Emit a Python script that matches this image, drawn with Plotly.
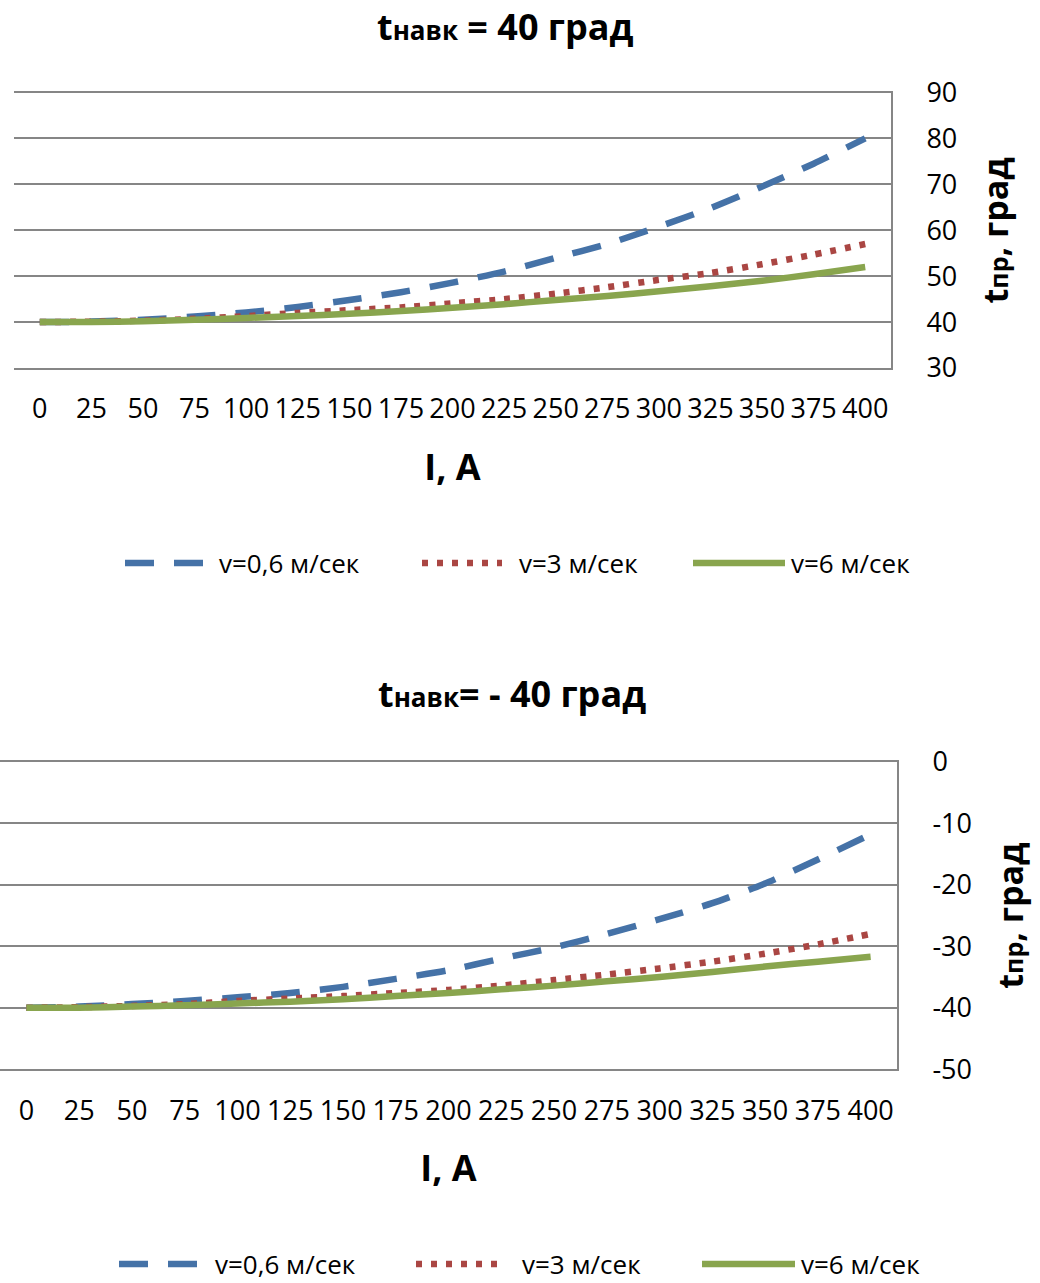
import plotly.graph_objects as go

# ---------------- data ----------------
current_A = [0, 25, 50, 75, 100, 125, 150, 175, 200, 225, 250, 275, 300, 325, 350, 375, 400]
tick_labels = [str(v) for v in current_A]

series_names = ["v=0,6 м/сек", "v=3 м/сек", "v=6 м/сек"]

top_yticks = [30, 40, 50, 60, 70, 80, 90]
top_yticklabels = ["30", "40", "50", "60", "70", "80", "90"]
bot_yticks = [-50, -40, -30, -20, -10, 0]
bot_yticklabels = ["-50", "-40", "-30", "-20", "-10", "0"]

# ambient +40 °C
top_v06 = [40, 40.1, 40.5, 41.2, 42.1, 43.3, 44.8, 46.5, 48.6, 51.0, 54.0, 57.0, 60.8, 64.8, 69.5, 74.5, 80.0]
top_v3 = [40, 40.1, 40.3, 40.7, 41.3, 42.0, 42.6, 43.2, 44.1, 45.0, 46.2, 47.6, 49.2, 50.7, 52.6, 54.7, 57.0]
top_v6 = [40, 40.0, 40.2, 40.5, 40.9, 41.3, 41.8, 42.4, 43.1, 43.9, 44.8, 45.7, 46.7, 47.8, 49.0, 50.4, 52.0]

# ambient -40 °C
bot_v06 = [-40, -39.8, -39.4, -38.9, -38.3, -37.6, -36.6, -35.3, -33.9, -32.0, -30.2, -28.0, -25.6, -23.0, -19.8, -15.9, -11.8]
bot_v3 = [-40, -39.9, -39.7, -39.4, -38.9, -38.5, -38.1, -37.6, -37.1, -36.4, -35.5, -34.6, -33.6, -32.5, -31.2, -29.7, -28.0]
bot_v6 = [-40, -40.0, -39.8, -39.6, -39.3, -39.0, -38.6, -38.1, -37.6, -37.0, -36.4, -35.7, -35.0, -34.2, -33.3, -32.5, -31.7]

# ---------------- styles ----------------
W, H = 1040, 1283
FONT = "Open Sans"
GRID = "#868686"
colors = ["#4572A7", "#AA4643", "#89A54E"]
dashes = ["29px,20px", "6px,9px", "solid"]
LW = 6.5


def py(px):
    return 1 - px / H


def px_x(px):
    return px / W


fig = go.Figure()

for vals, name, c, d in zip([top_v06, top_v3, top_v6], series_names, colors, dashes):
    fig.add_trace(go.Scatter(x=current_A, y=vals, name=name, mode="lines",
                             line=dict(color=c, width=LW, dash=d, shape="spline", smoothing=0.6),
                             showlegend=False, xaxis="x", yaxis="y"))
for vals, name, c, d in zip([bot_v06, bot_v3, bot_v6], series_names, colors, dashes):
    fig.add_trace(go.Scatter(x=current_A, y=vals, name=name, mode="lines",
                             line=dict(color=c, width=LW, dash=d, shape="spline", smoothing=0.6),
                             showlegend=False, xaxis="x2", yaxis="y2"))

xcommon = dict(range=[-12.5, 412.5], tickmode="array", tickvals=current_A, ticktext=tick_labels,
               showgrid=False, zeroline=False, showline=True, mirror=True,
               linecolor=GRID, linewidth=2, automargin=False,
               ticks="outside", ticklen=16, tickcolor="rgba(0,0,0,0)",
               tickfont=dict(family=FONT, size=27, color="black"),
               title=dict(text="<b>I, A</b>", font=dict(family=FONT, size=36, color="black"), standoff=29),
               fixedrange=True)
ycommon = dict(side="right", tickmode="array", showgrid=True, gridcolor=GRID, gridwidth=2,
               zeroline=False, showline=True, linecolor=GRID, linewidth=2, automargin=False,
               ticks="outside", ticklen=28, tickcolor="rgba(0,0,0,0)",
               tickfont=dict(family=FONT, size=27, color="black"),
               title=dict(text="<b>t<span style='font-size:25px'>пр</span>, град</b>",
                          font=dict(family=FONT, size=34, color="black"), standoff=28),
               fixedrange=True)

fig.update_layout(
    template="none",
    autosize=False,
    width=W, height=H,
    margin=dict(l=0, r=0, t=0, b=0, pad=0),
    paper_bgcolor="white", plot_bgcolor="white",
    font=dict(family=FONT, color="black"),
    xaxis=dict(domain=[px_x(14), px_x(891)], anchor="y", **xcommon),
    yaxis=dict(domain=[py(368), py(92.5)], anchor="x", range=[30, 90],
               tickvals=top_yticks, ticktext=top_yticklabels, **ycommon),
    xaxis2=dict(domain=[0, px_x(897)], anchor="y2", **xcommon),
    yaxis2=dict(domain=[py(1069.3), py(761.7)], anchor="x2", range=[-50, 0],
                tickvals=bot_yticks, ticktext=bot_yticklabels, **ycommon),
)

# chart titles
fig.add_annotation(text="<b>t<span style='font-size:26px'>навк</span> = 40 град</b>",
                   x=px_x(505), y=py(27), xref="paper", yref="paper", showarrow=False,
                   font=dict(family=FONT, size=36, color="black"), xanchor="center", yanchor="middle")
fig.add_annotation(text="<b>t<span style='font-size:26px'>навк</span>= - 40 град</b>",
                   x=px_x(512), y=py(693), xref="paper", yref="paper", showarrow=False,
                   font=dict(family=FONT, size=36, color="black"), xanchor="center", yanchor="middle")

# custom legends (long line samples like the original)
legend_rows = [
    (563, [(125, 205, 217), (422, 502, 517), (693, 785, 789)]),
    (1264, [(119, 201, 213), (416, 506, 520), (702, 795, 799)]),
]
for ypix, entries in legend_rows:
    for (x0, x1, xt), name, c, d in zip(entries, series_names, colors, dashes):
        fig.add_shape(type="line", xref="paper", yref="paper",
                      x0=px_x(x0), x1=px_x(x1), y0=py(ypix), y1=py(ypix),
                      line=dict(color=c, width=LW, dash=d))
        fig.add_annotation(text=name, x=px_x(xt), y=py(ypix), xref="paper", yref="paper",
                           showarrow=False, xanchor="left", yanchor="middle",
                           font=dict(family=FONT, size=26, color="black"))

fig.write_html("out.html")
